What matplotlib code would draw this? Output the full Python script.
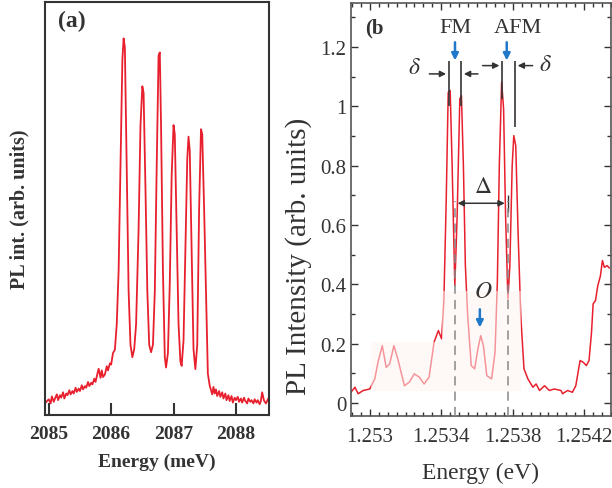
import numpy as np
import matplotlib
matplotlib.use("Agg")
import matplotlib.pyplot as plt
from matplotlib.patches import Rectangle

plt.rcParams['font.family'] = ['Liberation Serif', 'DejaVu Serif']
plt.rcParams['mathtext.fontset'] = 'stix'

# ---- panel (a): PL spectrum, energy in meV ----
energy_a = [2084.95, 2085.00, 2085.03, 2085.05, 2085.08, 2085.10, 2085.13, 2085.15, 2085.18, 2085.20,
            2085.23, 2085.25, 2085.28, 2085.30, 2085.33, 2085.35, 2085.38, 2085.40, 2085.43, 2085.45,
            2085.48, 2085.50, 2085.53, 2085.55, 2085.58, 2085.60, 2085.63, 2085.65, 2085.68, 2085.70,
            2085.73, 2085.75, 2085.78, 2085.80, 2085.83, 2085.85, 2085.87, 2085.90, 2085.93, 2085.95,
            2085.98, 2086.00, 2086.03, 2086.06, 2086.09, 2086.12, 2086.15, 2086.18, 2086.20, 2086.22,
            2086.25, 2086.28, 2086.31, 2086.34, 2086.37, 2086.40, 2086.44, 2086.47, 2086.50, 2086.52,
            2086.55, 2086.58, 2086.61, 2086.64, 2086.67, 2086.70, 2086.73, 2086.76, 2086.78, 2086.80,
            2086.83, 2086.86, 2086.88, 2086.91, 2086.94, 2086.97, 2087.00, 2087.02, 2087.05, 2087.08,
            2087.11, 2087.13, 2087.16, 2087.19, 2087.22, 2087.24, 2087.26, 2087.29, 2087.32, 2087.35,
            2087.38, 2087.41, 2087.44, 2087.46, 2087.49, 2087.52, 2087.55, 2087.58, 2087.60, 2087.62,
            2087.64, 2087.66, 2087.68, 2087.70, 2087.73, 2087.75, 2087.78, 2087.80, 2087.83, 2087.85,
            2087.88, 2087.90, 2087.93, 2087.95, 2087.98, 2088.00, 2088.03, 2088.05, 2088.08, 2088.10,
            2088.13, 2088.15, 2088.18, 2088.20, 2088.23, 2088.25, 2088.28, 2088.30, 2088.33, 2088.35,
            2088.38, 2088.40, 2088.42, 2088.45, 2088.48, 2088.52]
pl_a = [0.030, 0.038, 0.028, 0.045, 0.032, 0.040, 0.050, 0.036, 0.048, 0.042,
        0.055, 0.040, 0.052, 0.048, 0.060, 0.050, 0.058, 0.052, 0.066, 0.056,
        0.064, 0.058, 0.072, 0.062, 0.070, 0.066, 0.080, 0.070, 0.078, 0.074,
        0.088, 0.080, 0.100, 0.112, 0.090, 0.108, 0.092, 0.098, 0.118, 0.108,
        0.125, 0.122, 0.150, 0.158, 0.220, 0.350, 0.600, 0.860, 0.912, 0.890,
        0.600, 0.300, 0.170, 0.140, 0.160, 0.220, 0.450, 0.700, 0.796, 0.780,
        0.550, 0.300, 0.170, 0.152, 0.170, 0.300, 0.600, 0.870, 0.878, 0.700,
        0.350, 0.140, 0.115, 0.150, 0.320, 0.580, 0.702, 0.680, 0.450, 0.220,
        0.130, 0.119, 0.180, 0.400, 0.620, 0.674, 0.640, 0.400, 0.160, 0.111,
        0.170, 0.500, 0.692, 0.680, 0.500, 0.300, 0.100, 0.071, 0.060, 0.050,
        0.068, 0.052, 0.062, 0.046, 0.058, 0.044, 0.055, 0.040, 0.052, 0.036,
        0.048, 0.034, 0.046, 0.030, 0.042, 0.036, 0.044, 0.032, 0.040, 0.030,
        0.042, 0.034, 0.028, 0.040, 0.032, 0.036, 0.028, 0.038, 0.030, 0.036,
        0.026, 0.034, 0.055, 0.035, 0.028, 0.040]
ticks_a = [2085, 2086, 2087, 2088]

# ---- panel (b): PL spectrum, energy in eV ----
energy_b = [1.252895, 1.252917, 1.252935, 1.252963, 1.253000, 1.253028, 1.253046, 1.253070, 1.253092,
            1.253111, 1.253135, 1.253157, 1.253194, 1.253221, 1.253249, 1.253277, 1.253304, 1.253332,
            1.253360, 1.253384, 1.253402, 1.253415, 1.253428, 1.253439, 1.253450, 1.253461, 1.253476,
            1.253489, 1.253504, 1.253513, 1.253524, 1.253535, 1.253548, 1.253568, 1.253587, 1.253605,
            1.253621, 1.253636, 1.253655, 1.253682, 1.253701, 1.253714, 1.253725, 1.253738, 1.253749,
            1.253760, 1.253773, 1.253784, 1.253797, 1.253806, 1.253817, 1.253830, 1.253845, 1.253863,
            1.253885, 1.253913, 1.253931, 1.253950, 1.253978, 1.254005, 1.254033, 1.254070, 1.254079,
            1.254107, 1.254134, 1.254153, 1.254177, 1.254195, 1.254212, 1.254227, 1.254241, 1.254250,
            1.254263, 1.254276, 1.254291, 1.254302, 1.254313, 1.254328, 1.254340]
pl_b = [0.036, 0.053, 0.031, 0.042, 0.047, 0.081, 0.137, 0.193, 0.120,
        0.131, 0.193, 0.148, 0.058, 0.070, 0.098, 0.087, 0.064, 0.087,
        0.205, 0.244, 0.216, 0.350, 0.688, 1.047, 1.053, 0.800, 0.395,
        0.631, 1.025, 1.036, 0.800, 0.463, 0.294, 0.126, 0.115, 0.182,
        0.227, 0.193, 0.092, 0.081, 0.171, 0.407, 0.800, 1.081, 0.991,
        0.631, 0.350, 0.463, 0.800, 0.901, 0.867, 0.575, 0.294, 0.115,
        0.081, 0.053, 0.064, 0.042, 0.058, 0.042, 0.047, 0.042, 0.031,
        0.042, 0.036, 0.058, 0.143, 0.137, 0.126, 0.143, 0.238, 0.334,
        0.345, 0.395, 0.429, 0.480, 0.457, 0.463, 0.455]
ticks_b = [1.253, 1.2534, 1.2538, 1.2542]
tick_labels_b = ['1.253', '1.2534', '1.2538', '1.2542']
yticks_b = [0, 0.2, 0.4, 0.6, 0.8, 1.0, 1.2]
ytick_labels_b = ['0', '0.2', '0.4', '0.6', '0.8', '1', '1.2']
fm_peaks = [1.253443, 1.253511]
afm_peaks = [1.253741, 1.253812]
dip_lines = [1.253476, 1.253771]
o_peak = 1.253621

text_c = '#333333'
red = '#e8202e'
blue = '#1f78c8'

fig = plt.figure(figsize=(6.12, 4.89), dpi=100)

# panel (a)
ax1 = fig.add_axes([45/612, 73/489, 224/612, 413/489])
ax1.plot(energy_a, pl_a, color=red, lw=1.3)
ax1.set_xlim(2084.94, 2088.53)
ax1.set_ylim(0, 1)
ax1.set_xticks(ticks_a)
ax1.set_xticklabels([str(t) for t in ticks_a], fontsize=14, fontweight='bold', color=text_c)
ax1.set_yticks([])
ax1.tick_params(axis='x', direction='in', length=9, width=1.5, color=text_c, pad=7)
for s in ax1.spines.values():
    s.set_color(text_c)
    s.set_linewidth(1.5)
ax1.set_xlabel('Energy (meV)', fontsize=14, fontweight='bold', color=text_c, labelpad=8)
ax1.set_ylabel('PL int. (arb. units)', fontsize=14.5, fontweight='bold', color=text_c)
ax1.yaxis.set_label_coords(-0.07, 0.5)
ax1.text(0.06, 0.955, '(a)', transform=ax1.transAxes, fontsize=17, fontweight='bold',
         color=text_c, va='center', ha='left')

# panel (b)
ax2 = fig.add_axes([351/612, 72/489, 260/612, 413/489])
ax2.plot(energy_b, pl_b, color=red, lw=1.1, zorder=2)
ax2.set_xlim(1.252895, 1.254333)
ax2.set_ylim(-0.044, 1.348)

# faint washed-out boxes over the lower part of the spectrum
ax2.add_patch(Rectangle((1.253009, 0.041), 1.253404 - 1.253009, 0.205 - 0.041,
                        facecolor='#fef5f2', alpha=0.55, edgecolor='none', zorder=3))
ax2.add_patch(Rectangle((1.253404, 0.041), 1.253847 - 1.253404, 0.378 - 0.041,
                        facecolor='#fef5f2', alpha=0.55, edgecolor='none', zorder=3))

ax2.set_xticks(ticks_b)
ax2.set_xticklabels(tick_labels_b, fontsize=15, color=text_c)
ax2.set_xticks(np.arange(1.25290, 1.25435, 0.00005), minor=True)
ax2.set_yticks(yticks_b)
ax2.set_yticklabels(ytick_labels_b, fontsize=15, color=text_c)
ax2.set_yticks(np.arange(0.1, 1.35, 0.2), minor=True)
ax2.tick_params(which='both', direction='in', top=True, right=True, color=text_c, width=1)
ax2.tick_params(which='major', length=5)
ax2.tick_params(which='minor', length=3)
ax2.tick_params(axis='x', pad=8)
for s in ax2.spines.values():
    s.set_color('#555555')
    s.set_linewidth(1.2)
ax2.set_xlabel('Energy (eV)', fontsize=17, color=text_c, labelpad=11)
ax2.set_ylabel('PL Intensity (arb. units)', fontsize=21, color=text_c)
ax2.yaxis.set_label_coords(-0.15, 0.39)
ax2.text(0.055, 0.94, '(b', transform=ax2.transAxes, fontsize=15, fontweight='bold',
         color=text_c, va='center', ha='left')

# FM / AFM labels and blue arrows
ax2.text(np.mean(fm_peaks), 1.265, 'FM', fontsize=16, color=text_c, ha='center', va='center')
ax2.text(np.mean(afm_peaks) + 0.00005, 1.265, 'AFM', fontsize=16, color=text_c, ha='center', va='center')
for xe in [np.mean(fm_peaks), np.mean(afm_peaks) - 0.00001]:
    ax2.annotate('', xy=(xe, 1.145), xytext=(xe, 1.225),
                 arrowprops=dict(arrowstyle='-|>', color=blue, lw=1.8, mutation_scale=10))

# peak marker lines
ax2.vlines(fm_peaks, 1.0, 1.154, color=text_c, lw=1.2, zorder=4)
ax2.vlines(afm_peaks[0], 1.025, 1.154, color=text_c, lw=1.2, zorder=4)
ax2.vlines(afm_peaks[1], 0.93, 1.154, color=text_c, lw=1.2, zorder=4)

# delta arrows (FM pair slightly lower than AFM pair)
arr = dict(arrowstyle='-|>', color=text_c, lw=1.1, mutation_scale=9)
ax2.annotate('', xy=(fm_peaks[0], 1.109), xytext=(fm_peaks[0] - 0.000125, 1.109), arrowprops=arr)
ax2.annotate('', xy=(fm_peaks[1], 1.109), xytext=(fm_peaks[1] + 0.00011, 1.109), arrowprops=arr)
ax2.annotate('', xy=(afm_peaks[0], 1.137), xytext=(afm_peaks[0] - 0.000125, 1.137), arrowprops=arr)
ax2.annotate('', xy=(afm_peaks[1], 1.137), xytext=(afm_peaks[1] + 0.000115, 1.137), arrowprops=arr)
ax2.text(fm_peaks[0] - 0.000195, 1.13, r'$\delta$', fontsize=17, color=text_c, ha='center', va='center')
ax2.text(afm_peaks[1] + 0.000170, 1.14, r'$\delta$', fontsize=17, color=text_c, ha='center', va='center')

# Delta double arrow and dashed guides
ax2.vlines(dip_lines, -0.044, 0.68, color='#888888', lw=1.1, linestyles=(0, (6, 4)), zorder=4)
ax2.annotate('', xy=(dip_lines[0], 0.673), xytext=(dip_lines[1], 0.673),
             arrowprops=dict(arrowstyle='<|-|>', color=text_c, lw=1.1, mutation_scale=9))
ax2.vlines(dip_lines[1], 0.645, 0.70, color=text_c, lw=1.0)
ax2.text(np.mean(dip_lines) + 0.00001, 0.73, r'$\Delta$', fontsize=17, color=text_c, ha='center', va='center')

# O label
ax2.text(o_peak + 0.000012, 0.375, r'$O$', fontsize=17, color=text_c, ha='center', va='center')
ax2.annotate('', xy=(o_peak - 0.000005, 0.245), xytext=(o_peak - 0.000005, 0.325),
             arrowprops=dict(arrowstyle='-|>', color=blue, lw=1.8, mutation_scale=10))

fig.savefig('out.png', dpi=100)
